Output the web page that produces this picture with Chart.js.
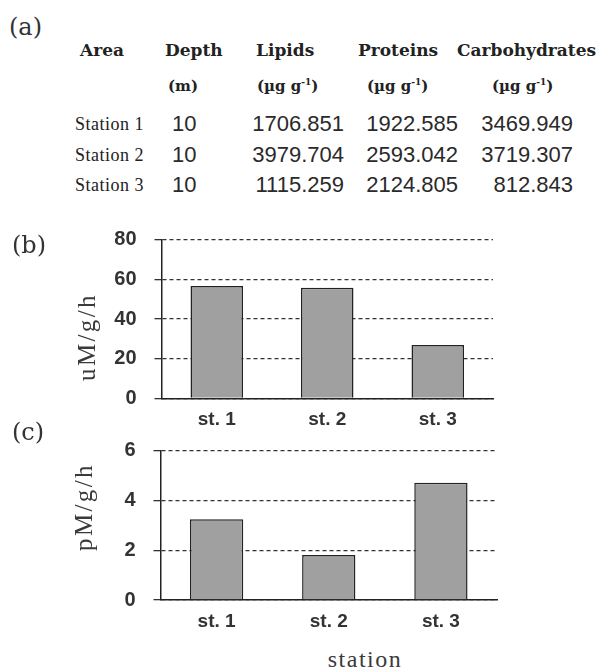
<!DOCTYPE html>
<html>
<head>
<meta charset="utf-8">
<script src="https://cdn.jsdelivr.net/npm/chart.js@4.4.0/dist/chart.umd.min.js"></script>
<style>
  body { margin: 0; background: #fff; width: 599px; height: 672px; position: relative; overflow: hidden; }
  .t { position: absolute; white-space: nowrap; line-height: 1; color: #2a2a2a; }
  .panel { font: 24px "DejaVu Serif"; color: #333; }
  .head { font: bold 17px "DejaVu Serif"; color: #222; }
  .unit { font: bold 15px "DejaVu Serif"; color: #222; }
  .unit sup { font-size: 9px; }
  .area { font: 18px "Liberation Serif"; letter-spacing: 0.5px; color: #222; }
  .num { font: 22px "Liberation Sans"; color: #2a2a2a; }
  .ytitle { font: 25px "Liberation Serif"; letter-spacing: 2.4px; color: #3a3a3a; }
  .xtitle { font: 24px "Liberation Serif"; letter-spacing: 1.5px; color: #3a3a3a; }
  canvas { position: absolute; left: 0; }
</style>
</head>
<body>
<canvas id="chartB" width="599" height="214" style="top:220px"></canvas>
<canvas id="chartC" width="599" height="210" style="top:430px"></canvas>
<script>
// table (a)
const areas = ['Station 1', 'Station 2', 'Station 3'];
const depths = [10, 10, 10];
const lipids = [1706.851, 3979.704, 1115.259];
const proteins = [1922.585, 2593.042, 2124.805];
const carbs = [3469.949, 3719.307, 812.843];

// charts (b) and (c)
const stations = ['st. 1', 'st. 2', 'st. 3'];
const rateB = [56.6, 55.8, 26.9];   // uM/g/h
const rateC = [3.25, 1.81, 4.71];   // pM/g/h
const ticksB = [0, 80, 20];         // min, max, step
const ticksC = [0, 6, 2];

function put(html, x, y, cls, align) {
  const el = document.createElement('div');
  el.className = 't ' + cls;
  el.innerHTML = html;
  el.style.top = y + 'px';
  if (align === 'right') {
    el.style.right = (599 - x) + 'px';
    el.style.transform = 'translateY(-50%)';
  } else if (align === 'rot') {
    el.style.left = x + 'px';
    el.style.transform = 'translate(-50%,-50%) rotate(-90deg)';
  } else if (align === 'center') {
    el.style.left = x + 'px';
    el.style.transform = 'translate(-50%,-50%)';
  } else {
    el.style.left = x + 'px';
    el.style.transform = 'translateY(-50%)';
  }
  document.body.appendChild(el);
}

put('(a)', 9, 27, 'panel');
put('(b)', 12, 245, 'panel');
put('(c)', 12, 432, 'panel');

put('Area', 80, 50, 'head');
put('Depth', 165, 50, 'head');
put('Lipids', 256, 50, 'head');
put('Proteins', 358, 50, 'head');
put('Carbohydrates', 457, 50, 'head');
const ug = '(\u00b5g g<sup>-1</sup>)';
put('(m)', 168, 86, 'unit');
put(ug, 257, 86, 'unit');
put(ug, 367, 86, 'unit');
put(ug, 492, 86, 'unit');

const rowY = [124, 155, 185];
areas.forEach((a, i) => {
  put(a, 75, rowY[i], 'area');
  put(String(depths[i]), 172, rowY[i], 'num');
  put(lipids[i].toFixed(3), 344, rowY[i], 'num', 'right');
  put(proteins[i].toFixed(3), 458, rowY[i], 'num', 'right');
  put(carbs[i].toFixed(3), 573, rowY[i], 'num', 'right');
});

put('uM/g/h', 87, 337, 'ytitle', 'rot');
put('pM/g/h', 84, 507, 'ytitle', 'rot');
put('station', 365, 659, 'xtitle', 'center');

function barChart(id, values, ticks, axisWidth, pad, xHeight) {
  return new Chart(document.getElementById(id), {
    type: 'bar',
    data: {
      labels: stations,
      datasets: [{
        data: values,
        backgroundColor: '#a0a0a0',
        borderColor: '#222',
        borderWidth: 1.5,
        barPercentage: 0.475,
        categoryPercentage: 1
      }]
    },
    options: {
      responsive: false,
      animation: false,
      layout: { padding: pad },
      plugins: { legend: { display: false }, tooltip: { enabled: false } },
      scales: {
        x: {
          grid: { display: false },
          border: { display: true, color: '#222', width: 1.5 },
          ticks: { color: '#333', padding: 2, font: { family: 'Liberation Sans', size: 19, weight: 'bold' } },
          afterFit: s => { s.height = xHeight; s.paddingLeft = 0; s.paddingRight = 0; }
        },
        y: {
          min: ticks[0],
          max: ticks[1],
          grid: { color: '#333', lineWidth: 1.3, tickLength: 7, borderDash: [4, 3] },
          border: { display: true, color: '#222', width: 1.5, dash: [4, 3] },
          ticks: { stepSize: ticks[2], color: '#333', padding: 18, font: { family: 'Liberation Sans', size: 20, weight: 'bold' } },
          // keep the plot edges where the reference has them
          afterFit: s => { s.width = axisWidth; s.paddingTop = 0; s.paddingBottom = 0; }
        }
      }
    }
  });
}

barChart('chartB', rateB, ticksB, 161.5, { top: 19.7, right: 106, bottom: 0, left: 0 }, 35.7);
barChart('chartC', rateC, ticksC, 160.5, { top: 20.7, right: 102, bottom: 0, left: 0 }, 40);
</script>
</body>
</html>
